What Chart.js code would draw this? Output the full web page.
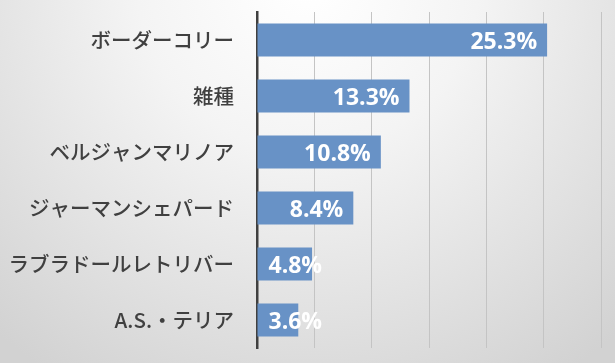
<!DOCTYPE html>
<html>
<head>
<meta charset="utf-8">
<script src="https://cdn.jsdelivr.net/npm/chart.js@4/dist/chart.umd.min.js"></script>
<style>
  html, body { margin: 0; padding: 0; background: #fff; }
  #wrap { width: 615px; height: 363px; }
</style>
</head>
<body>
<div id="wrap"><canvas id="c" width="615" height="363"></canvas></div>
<script>
const breeds = ["ボーダーコリー", "雑種", "ベルジャンマリノア", "ジャーマンシェパード", "ラブラドールレトリバー", "A.S.・テリア"];
const shares = [25.3, 13.3, 10.8, 8.4, 4.8, 3.6];
const xTicks = [0, 5, 10, 15, 20, 25, 30];

// radial grey backdrop, white at top centre
const backdrop = {
  id: "backdrop",
  beforeDraw(chart) {
    const ctx = chart.ctx;
    const w = chart.width, h = chart.height;
    const g = ctx.createRadialGradient(w / 2, -20, 10, w / 2, -20, 470);
    g.addColorStop(0, "#ffffff");
    g.addColorStop(0.35, "#f4f4f4");
    g.addColorStop(1, "#d2d2d2");
    ctx.save();
    ctx.fillStyle = g;
    ctx.fillRect(0, 0, w, h);
    ctx.restore();
  }
};

// white percentage labels at the bar ends
const valueLabels = {
  id: "valueLabels",
  afterDatasetsDraw(chart) {
    const ctx = chart.ctx;
    const meta = chart.getDatasetMeta(0);
    ctx.save();
    ctx.font = "bold 23px 'Open Sans'";
    ctx.fillStyle = "#ffffff";
    ctx.textAlign = "right";
    ctx.textBaseline = "middle";
    meta.data.forEach((bar, i) => {
      const txt = shares[i].toFixed(1) + "%";
      const tw = ctx.measureText(txt).width;
      const right = Math.max(bar.x - 10, bar.base + 11 + tw);
      ctx.fillText(txt, right, bar.y + 2);
    });
    ctx.restore();
  }
};

new Chart(document.getElementById("c"), {
  type: "bar",
  data: {
    labels: breeds,
    datasets: [{
      data: shares,
      backgroundColor: "#6892c6",
      borderWidth: 0,
      categoryPercentage: 1,
      barPercentage: 0.585
    }]
  },
  options: {
    indexAxis: "y",
    responsive: false,
    animation: false,
    layout: { padding: { top: 12, right: 14, bottom: 15, left: 0 } },
    plugins: { legend: { display: false }, tooltip: { enabled: false } },
    scales: {
      x: {
        min: xTicks[0],
        max: xTicks[xTicks.length - 1],
        afterBuildTicks(s) { s.ticks = xTicks.map(v => ({ value: v })); },
        ticks: { display: false },
        grid: { color: "#c4c4c4", lineWidth: 1, drawTicks: false },
        border: { display: false },
        afterFit(s) { s.height = 0; s.paddingLeft = 0; s.paddingRight = 0; }
      },
      y: {
        ticks: {
          color: "#404040",
          padding: 23,
          font: { family: "'Noto Sans CJK JP'", size: 20.5, weight: "500" }
        },
        grid: { display: false, drawTicks: false },
        border: { display: true, color: "#404040", width: 2.5 },
        afterFit(s) { s.width = 257; s.paddingTop = 0; s.paddingBottom = 0; }
      }
    }
  },
  plugins: [backdrop, valueLabels]
});
</script>
</body>
</html>
